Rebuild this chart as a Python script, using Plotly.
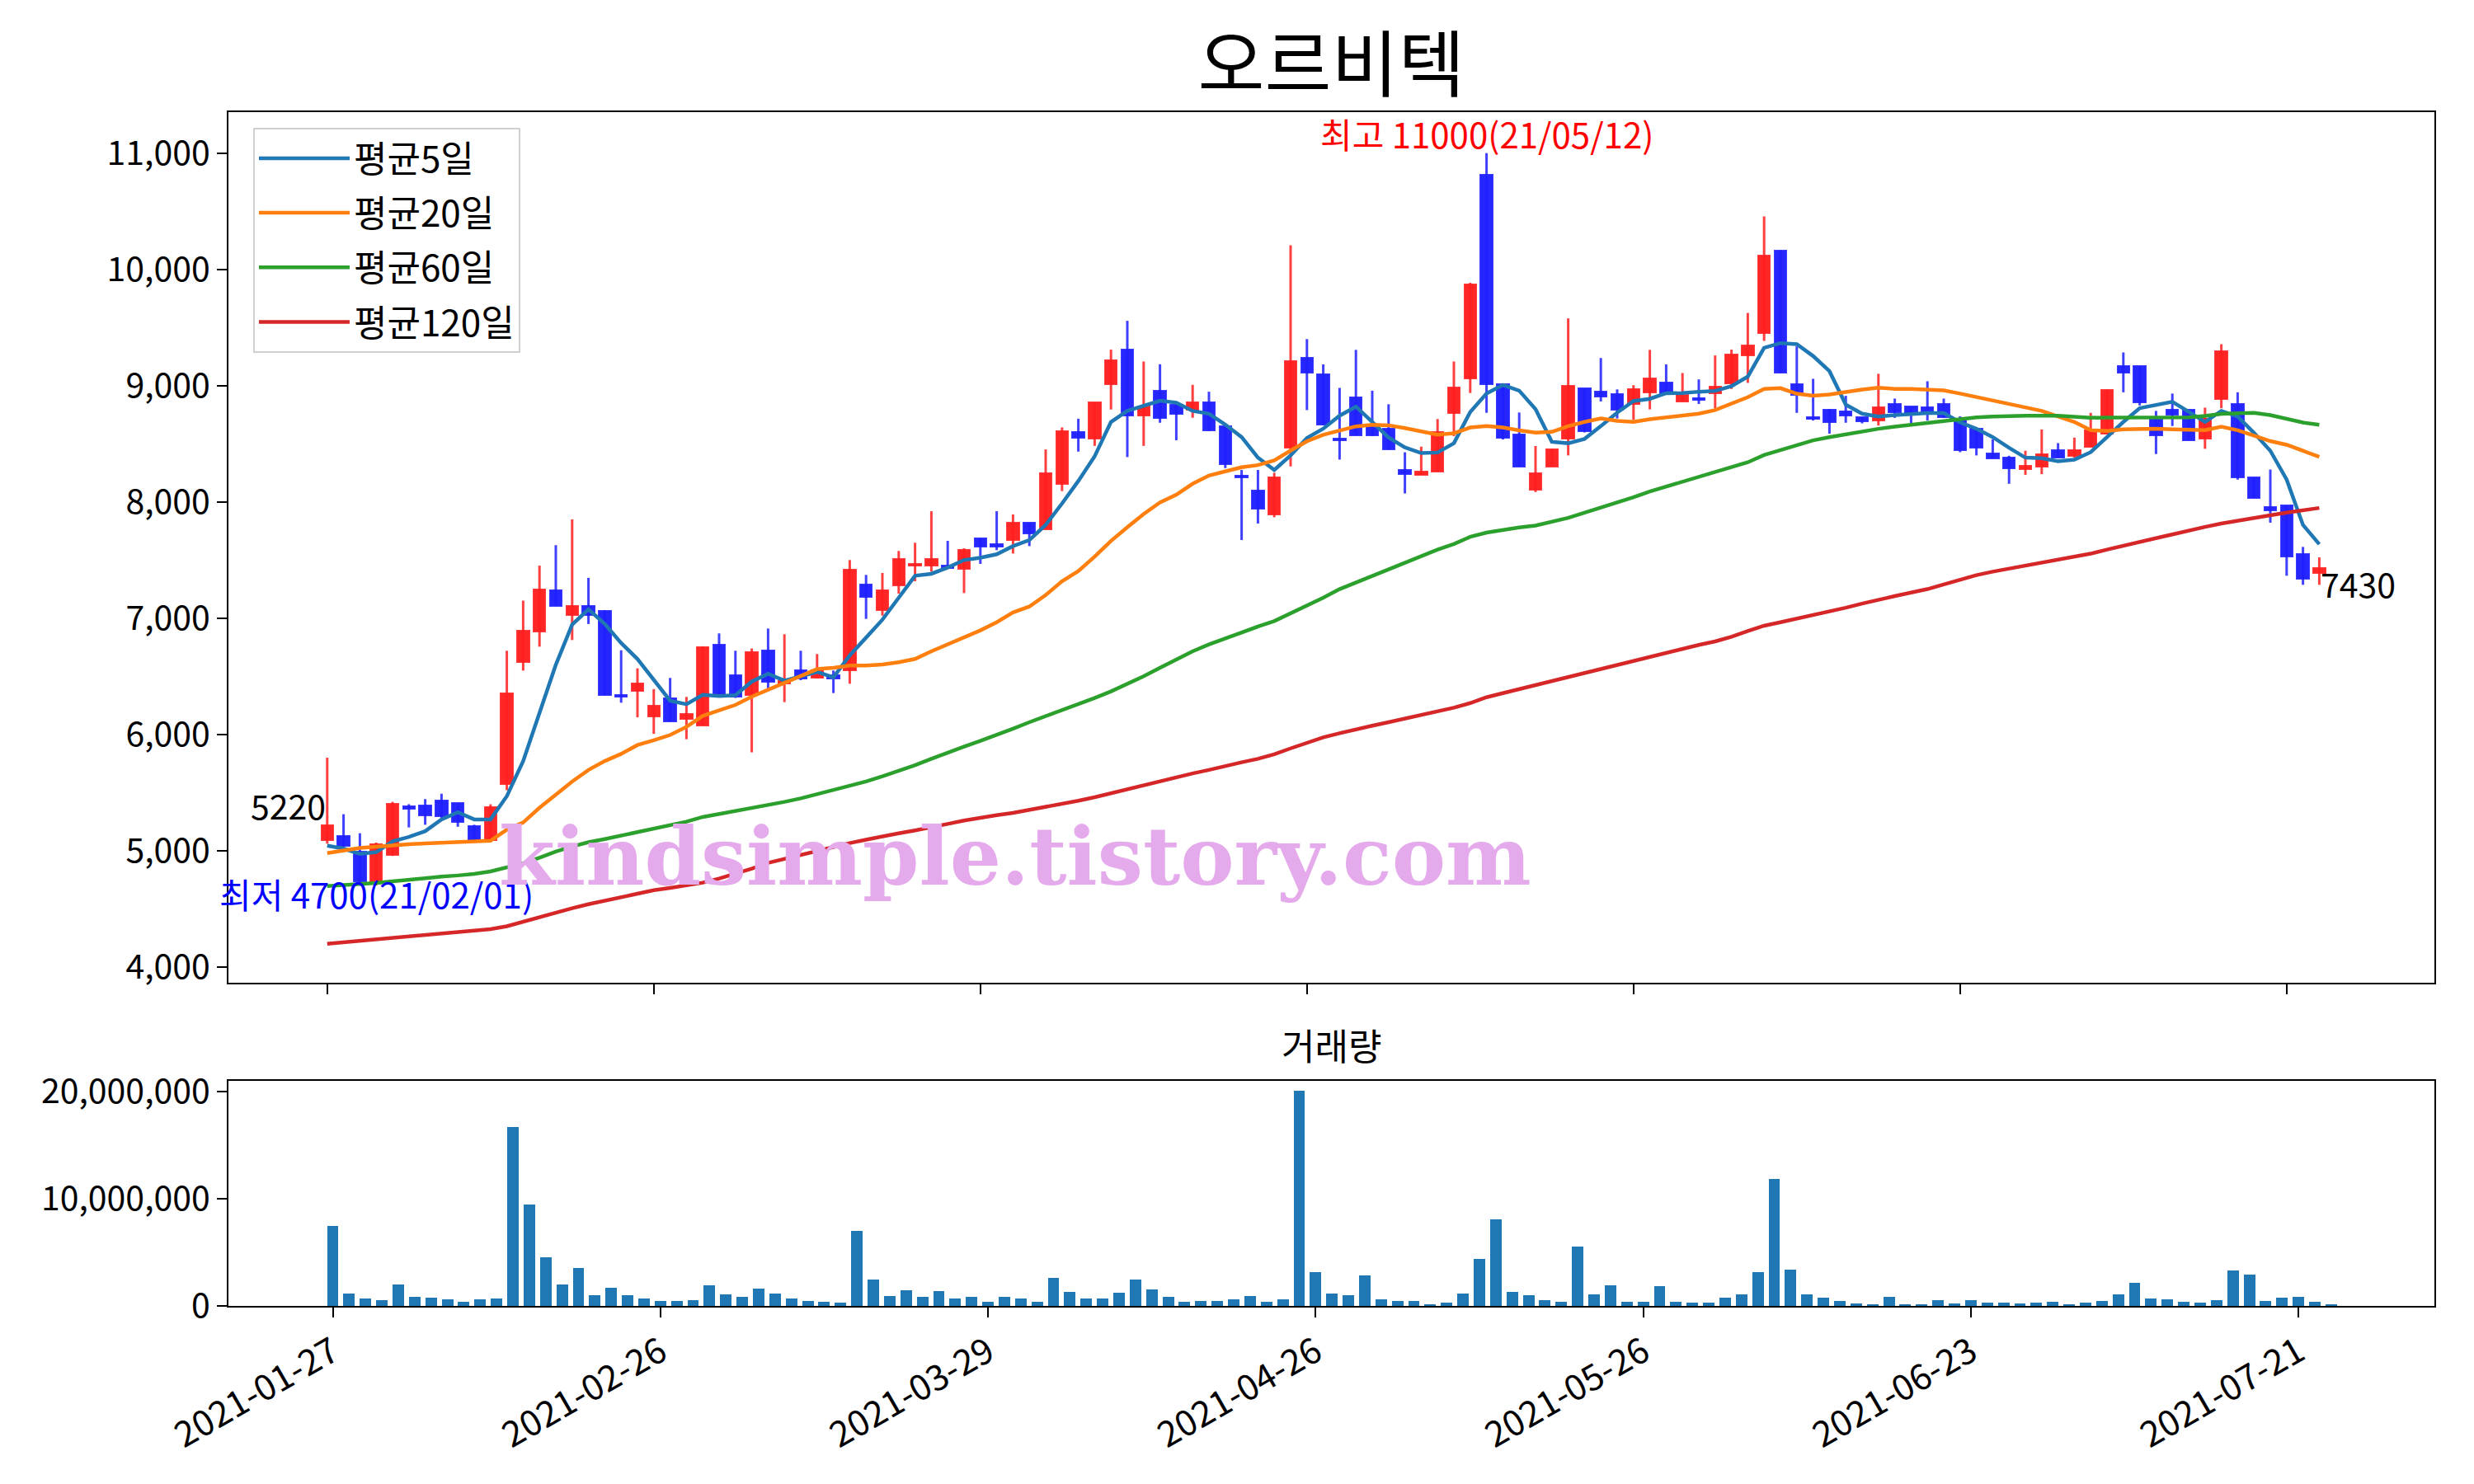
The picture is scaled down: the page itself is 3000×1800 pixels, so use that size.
import plotly.graph_objects as go

# ---------------- data ----------------
title_text = "오르비텍"
tick_pos = [0, 20, 40, 60, 80, 100, 120]
tick_dates = ["2021-01-27", "2021-02-26", "2021-03-29", "2021-04-26",
              "2021-05-26", "2021-06-23", "2021-07-21"]
max_date_label = "21/05/12"
min_date_label = "21/02/01"
watermark_text = "kindsimple.tistory.com"

opens = [5090, 5130, 4992, 4740, 4960, 5380, 5387, 5432, 5407, 5213,
         5093, 5570, 6624, 6883, 7239, 7026, 7106, 7063, 6340, 6373,
         6155, 6310, 6135, 6077, 6774, 6507, 6337, 6720, 6440, 6550,
         6491, 6507, 6550, 7289, 7070, 7282, 7452, 7452, 7452, 7424,
         7689, 7637, 7670, 7819, 7766, 8156, 8605, 8546, 9012, 9310,
         8743, 8953, 8837, 8794, 8858, 8653, 8227, 8097, 7892, 8467,
         9238, 9096, 8547, 8898, 8652, 8627, 8273, 8232, 8261, 8762,
         9062, 10817, 9011, 8583, 8107, 8305, 8542, 8974, 8952, 8925,
         8846, 8940, 9025, 8865, 8894, 8932, 9019, 9260, 9456, 10165,
         9014, 8728, 8794, 8776, 8731, 8700, 8842, 8818, 8813, 8846,
         8700, 8629, 8414, 8381, 8279, 8303, 8447, 8397, 8471, 8589,
         9168, 9168, 8712, 8790, 8790, 8546, 8882, 8846, 8208, 7955,
         7967, 7554, 7388]
highs = [5800, 5314, 5150, 5070, 5420, 5400, 5444, 5490, 5407, 5223,
         5399, 6720, 7151, 7452, 7628, 7850, 7347, 7070, 6724, 6569,
         6390, 6486, 6323, 6758, 6869, 6720, 6739, 6911, 6862, 6720,
         6692, 6550, 7500, 7372, 7389, 7578, 7649, 7920, 7665, 7601,
         7689, 7920, 7892, 7819, 8452, 8641, 8716, 8858, 9310, 9558,
         9208, 9184, 8837, 9007, 8948, 8653, 8275, 8275, 8251, 10207,
         9401, 9183, 8981, 9308, 8957, 8840, 8427, 8476, 8713, 9208,
         9885, 11000, 9011, 8769, 8481, 8456, 9579, 8974, 9238, 8968,
         9004, 9308, 9183, 9109, 9054, 9260, 9310, 9626, 10456, 10165,
         9338, 9059, 8799, 8913, 8731, 9102, 8889, 8818, 9038, 8889,
         8736, 8629, 8538, 8397, 8440, 8624, 8506, 8553, 8766, 8965,
         9286, 9168, 8783, 8932, 8790, 8811, 9357, 8943, 8208, 8279,
         7967, 7613, 7523]
lows = [5060, 5018, 4730, 4700, 4955, 5200, 5223, 5281, 5206, 5093,
        5080, 5520, 6549, 6755, 7108, 6812, 6950, 6335, 6273, 6147,
        6005, 6110, 5959, 6077, 6349, 6314, 5846, 6396, 6278, 6467,
        6484, 6356, 6436, 6994, 7022, 7211, 7318, 7400, 7424, 7216,
        7467, 7585, 7556, 7620, 7766, 8093, 8433, 8482, 8795, 8386,
        8482, 8681, 8530, 8724, 8610, 8291, 7672, 7814, 7868, 8306,
        8790, 8662, 8364, 8572, 8566, 8449, 8073, 8232, 8261, 8566,
        8937, 8766, 8537, 8305, 8085, 8305, 8400, 8598, 8864, 8718,
        8705, 8796, 8934, 8864, 8842, 8806, 8972, 9024, 9385, 9109,
        8766, 8700, 8587, 8681, 8676, 8657, 8723, 8676, 8700, 8724,
        8428, 8400, 8374, 8156, 8232, 8239, 8381, 8381, 8471, 8589,
        8943, 8830, 8412, 8653, 8530, 8457, 8806, 8192, 8031, 7821,
        7365, 7287, 7287]
closes = [5220, 5043, 4740, 5055, 5400, 5360, 5306, 5294, 5244, 5093,
          5374, 6355, 6893, 7244, 7108, 7106, 7026, 6340, 6323, 6436,
          6250, 6115, 6177, 6751, 6349, 6325, 6708, 6455, 6460, 6479,
          6550, 6479, 7417, 7181, 7240, 7507, 7464, 7507, 7429, 7585,
          7618, 7618, 7820, 7731, 8246, 8610, 8551, 8858, 9220, 8743,
          8818, 8724, 8759, 8858, 8613, 8327, 8211, 7944, 8211, 9210,
          9115, 8662, 8530, 8572, 8574, 8449, 8237, 8261, 8603, 8986,
          9873, 9011, 8554, 8305, 8244, 8456, 9001, 8608, 8903, 8796,
          8968, 9062, 8934, 8922, 8882, 8995, 9267, 9343, 10118, 9109,
          8924, 8719, 8688, 8742, 8695, 8813, 8771, 8747, 8771, 8726,
          8446, 8468, 8374, 8286, 8310, 8412, 8381, 8447, 8617, 8965,
          9109, 8854, 8570, 8752, 8530, 8712, 9296, 8208, 8031, 7925,
          7530, 7341, 7430]
volumes = [7490000, 1200000, 740000, 590000, 2050000, 900000, 820000, 660000, 430000, 660000,
           740000, 16700000, 9490000, 4580000, 2050000, 3580000, 1050000, 1740000, 1050000, 740000,
           510000, 510000, 590000, 1970000, 1130000, 900000, 1660000, 1200000, 740000, 510000,
           430000, 360000, 7030000, 2500000, 970000, 1500000, 900000, 1430000, 740000, 900000,
           430000, 900000, 740000, 430000, 2660000, 1360000, 740000, 740000, 1280000, 2500000,
           1590000, 900000, 430000, 510000, 510000, 660000, 970000, 430000, 660000, 20100000,
           3200000, 1200000, 1050000, 2890000, 660000, 510000, 510000, 200000, 360000, 1200000,
           4420000, 8100000, 1360000, 1050000, 590000, 430000, 5580000, 1130000, 1970000, 430000,
           430000, 1890000, 430000, 360000, 360000, 820000, 1130000, 3200000, 11900000, 3430000,
           1130000, 820000, 510000, 280000, 200000, 900000, 200000, 200000, 590000, 280000,
           590000, 360000, 360000, 280000, 360000, 430000, 200000, 360000, 510000, 1130000,
           2200000, 740000, 660000, 430000, 360000, 590000, 3350000, 2970000, 510000, 820000,
           900000, 430000, 200000]
ma5 = [5043, 5018, 4972, 4988, 5080, 5118, 5168, 5269, 5331, 5269,
       5269, 5469, 5771, 6197, 6599, 6945, 7076, 6950, 6787, 6649,
       6470, 6290, 6260, 6340, 6330, 6337, 6455, 6522, 6462, 6503,
       6538, 6491, 6680, 6833, 6987, 7176, 7365, 7382, 7436, 7500,
       7520, 7550, 7620, 7672, 7802, 7986, 8180, 8393, 8688, 8783,
       8830, 8870, 8854, 8783, 8759, 8665, 8558, 8381, 8275, 8400,
       8550, 8630, 8742, 8820, 8688, 8554, 8469, 8420, 8425, 8505,
       8774, 8933, 9006, 8957, 8798, 8517, 8505, 8542, 8652, 8768,
       8868, 8887, 8935, 8936, 8948, 8955, 8995, 9078, 9326, 9366,
       9357, 9255, 9125, 8837, 8759, 8735, 8747, 8759, 8764, 8765,
       8685, 8629, 8558, 8466, 8381, 8376, 8350, 8364, 8428, 8558,
       8688, 8806, 8830, 8861, 8776, 8688, 8783, 8735, 8594, 8440,
       8192, 7802, 7636]
ma20 = [4980, 5005, 5023, 5035, 5048, 5055, 5063, 5068, 5073, 5075,
        5085, 5181, 5243, 5369, 5482, 5595, 5695, 5771, 5833, 5909,
        5950, 5995, 6065, 6160, 6207, 6254, 6325, 6384, 6443, 6503,
        6562, 6573, 6592, 6592, 6602, 6621, 6649, 6715, 6774, 6833,
        6895, 6965, 7050, 7100, 7199, 7317, 7405, 7530, 7665, 7783,
        7896, 7996, 8062, 8156, 8227, 8263, 8298, 8317, 8357, 8442,
        8522, 8578, 8616, 8650, 8664, 8659, 8635, 8603, 8579, 8591,
        8640, 8652, 8640, 8615, 8596, 8603, 8652, 8688, 8718, 8697,
        8688, 8712, 8729, 8746, 8759, 8790, 8842, 8901, 8972, 8979,
        8931, 8913, 8924, 8948, 8967, 8983, 8972, 8972, 8964, 8960,
        8932, 8901, 8873, 8842, 8813, 8783, 8735, 8688, 8617, 8610,
        8624, 8629, 8629, 8624, 8617, 8617, 8648, 8617, 8570, 8523,
        8492, 8440, 8388]
ma60 = [4696, 4703, 4711, 4723, 4736, 4752, 4767, 4777, 4787, 4800,
        4822, 4855, 4892, 4940, 4993, 5035, 5073, 5100, 5131, 5165,
        5195, 5220, 5250, 5290, 5315, 5340, 5365, 5395, 5420, 5450,
        5485, 5520, 5555, 5595, 5640, 5685, 5735, 5790, 5845, 5895,
        5945, 5995, 6050, 6105, 6155, 6210, 6260, 6313, 6370, 6431,
        6500, 6573, 6645, 6715, 6774, 6828, 6880, 6928, 6975, 7040,
        7110, 7176, 7250, 7306, 7360, 7420, 7480, 7535, 7590, 7638,
        7700, 7736, 7761, 7780, 7797, 7829, 7863, 7907, 7951, 7993,
        8040, 8090, 8133, 8171, 8215, 8255, 8298, 8341, 8404, 8447,
        8487, 8530, 8557, 8582, 8606, 8629, 8647, 8664, 8682, 8700,
        8714, 8728, 8735, 8742, 8742, 8742, 8742, 8733, 8724, 8726,
        8728, 8728, 8728, 8728, 8728, 8740, 8757, 8762, 8766, 8747,
        8712, 8683, 8664]
ma120 = [4200, 4212, 4225, 4237, 4250, 4260, 4272, 4285, 4297, 4310,
         4325, 4350, 4390, 4425, 4470, 4505, 4540, 4570, 4600, 4630,
         4660, 4680, 4700, 4725, 4760, 4800, 4845, 4895, 4930, 4960,
         4995, 5030, 5065, 5095, 5125, 5150, 5175, 5200, 5230, 5260,
         5285, 5305, 5325, 5350, 5375, 5400, 5430, 5460, 5495, 5530,
         5565, 5600, 5635, 5665, 5695, 5730, 5760, 5790, 5830, 5880,
         5930, 5975, 6010, 6045, 6075, 6105, 6135, 6165, 6195, 6230,
         6270, 6320, 6355, 6390, 6420, 6455, 6490, 6525, 6560, 6595,
         6630, 6665, 6700, 6735, 6770, 6800, 6840, 6890, 6935, 6965,
         6995, 7025, 7055, 7090, 7125, 7160, 7190, 7220, 7250, 7290,
         7330, 7370, 7400, 7425, 7455, 7480, 7505, 7530, 7555, 7590,
         7625, 7655, 7688, 7720, 7755, 7785, 7814, 7840, 7861, 7885,
         7908, 7928, 7948]

ma_names = ["평균5일", "평균20일", "평균60일", "평균120일"]
ma_series = [ma5, ma20, ma60, ma120]
ma_colors = ["#1f77b4", "#ff7f0e", "#2ca02c", "#d62728"]

# ---------------- figure ----------------
FONT = "Noto Sans CJK KR"
n = len(closes)
idx = list(range(n))

up_x, up_base, up_h = [], [], []
dn_x, dn_base, dn_h = [], [], []
wu_x, wu_y, wd_x, wd_y = [], [], [], []
MIN_BODY = 14
for i in idx:
    o, h, l, c = opens[i], highs[i], lows[i], closes[i]
    body = max(abs(c - o), MIN_BODY)
    base = min(o, c) - (body - abs(c - o)) / 2
    if c >= o:
        up_x.append(i); up_base.append(base); up_h.append(body)
        wu_x += [i, i, None]; wu_y += [l, h, None]
    else:
        dn_x.append(i); dn_base.append(base); dn_h.append(body)
        wd_x += [i, i, None]; wd_y += [l, h, None]

RED = "rgba(255,0,0,0.85)"
BLUE = "rgba(0,0,255,0.85)"

fig = go.Figure()
fig.add_trace(go.Scatter(x=wu_x, y=wu_y, mode="lines", line=dict(color="rgba(255,30,30,0.85)", width=3),
                         showlegend=False, hoverinfo="skip", xaxis="x", yaxis="y"))
fig.add_trace(go.Scatter(x=wd_x, y=wd_y, mode="lines", line=dict(color="rgba(30,30,255,0.85)", width=3),
                         showlegend=False, hoverinfo="skip", xaxis="x", yaxis="y"))
fig.add_trace(go.Bar(x=up_x, y=up_h, base=up_base, width=0.72,
                     marker=dict(color=RED, line=dict(color="rgba(255,40,40,0.9)", width=2)),
                     showlegend=False, xaxis="x", yaxis="y"))
fig.add_trace(go.Bar(x=dn_x, y=dn_h, base=dn_base, width=0.72,
                     marker=dict(color=BLUE, line=dict(color="rgba(40,40,255,0.9)", width=2)),
                     showlegend=False, xaxis="x", yaxis="y"))

for name, s, col in zip(ma_names, ma_series, ma_colors):
    fig.add_trace(go.Scatter(x=idx, y=s, mode="lines", name=name, legendgroup=name,
                             line=dict(color=col, width=4.5), xaxis="x", yaxis="y"))

fig.add_trace(go.Bar(x=idx, y=volumes, width=0.7, marker=dict(color="#1f77b4", line=dict(width=0)),
                     showlegend=False, xaxis="x2", yaxis="y2"))

# annotations
imax = max(idx, key=lambda i: highs[i])
imin = min(idx, key=lambda i: lows[i])
ann = [
    dict(x=imax, y=highs[imax], xref="x", yref="y", text=f"최고 {highs[imax]}({max_date_label})",
         showarrow=False, xanchor="center", yanchor="bottom", yshift=-8,
         font=dict(color="red", size=42, family=FONT)),
    dict(x=imin, y=lows[imin], xref="x", yref="y", text=f"최저 {lows[imin]}({min_date_label})",
         showarrow=False, xanchor="center", yanchor="middle", yshift=-9,
         font=dict(color="blue", size=42, family=FONT)),
    dict(x=0, y=closes[0], xref="x", yref="y", text=str(closes[0]),
         showarrow=False, xanchor="right", yanchor="bottom", yshift=-7,
         font=dict(color="black", size=41, family=FONT)),
    dict(x=n - 1, y=closes[-1], xref="x", yref="y", text=str(closes[-1]),
         showarrow=False, xanchor="left", yanchor="top", yshift=14,
         font=dict(color="black", size=41, family=FONT)),
    dict(x=0.5, y=0.2189, xref="paper", yref="paper", text="거래량", showarrow=False,
         xanchor="center", yanchor="middle", font=dict(color="black", size=44, family=FONT)),
    dict(x=0.3566, y=0.3764, xref="paper", yref="paper", text=f"<b>{watermark_text}</b>", showarrow=False,
         xanchor="center", yanchor="middle", font=dict(color="#e4aaec", size=98, family="DejaVu Serif")),
]

axis_common = dict(showline=True, mirror=True, linecolor="black", linewidth=2,
                   ticks="outside", ticklen=12, tickwidth=2, tickcolor="black",
                   showgrid=False, zeroline=False,
                   tickfont=dict(size=41, family=FONT, color="black"))

# page offset of the browser body margin (8px) compensated in the margins
OFF = 8
fig.update_layout(
    width=3000, height=1800,
    margin=dict(l=277 - OFF, r=48 + OFF, t=136 - OFF, b=216 + OFF),
    paper_bgcolor="white", plot_bgcolor="white",
    barmode="overlay", bargap=0,
    title=dict(text=title_text, x=0.5, xref="paper", xanchor="center",
               y=1 - (79 - OFF) / 1800, yref="container", yanchor="middle",
               font=dict(size=88, family=FONT, color="black")),
    xaxis=dict(domain=[0, 1], anchor="y", range=[-6.05, 129.05], tickvals=tick_pos,
               showticklabels=False, **axis_common),
    yaxis=dict(domain=[0.2707, 1], anchor="x", range=[3864, 11353],
               tickvals=list(range(4000, 11001, 1000)), tickformat=",d", **axis_common),
    xaxis2=dict(domain=[0, 1], anchor="y2", range=[-6.37, 128.3], tickvals=tick_pos,
                ticktext=tick_dates, tickangle=-30, **{**axis_common,
                "tickfont": dict(size=43, family=FONT, color="black")}),
    yaxis2=dict(domain=[0, 0.1888], anchor="x2", range=[0, 21030000],
                tickvals=[0, 10000000, 20000000], tickformat=",d", **axis_common),
    legend=dict(x=0.0112, y=0.987, xanchor="left", yanchor="top", bgcolor="white",
                bordercolor="#d0d0d0", borderwidth=2, itemwidth=110,
                traceorder="grouped", tracegroupgap=6,
                font=dict(size=44, family=FONT, color="black")),
    annotations=ann,
    showlegend=True,
)

fig.write_html("out.html")
